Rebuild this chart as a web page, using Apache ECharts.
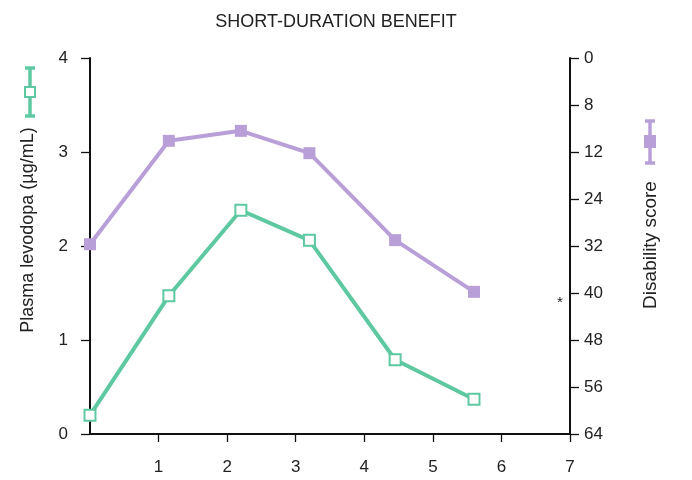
<!DOCTYPE html>
<html><head><meta charset="utf-8">
<script src="https://cdn.jsdelivr.net/npm/echarts@6/dist/echarts.min.js"></script>
<style>html,body{margin:0;padding:0;background:#fff}#c{width:692px;height:480px}</style>
</head><body><div id="c"></div>
<script>
var hours = [0, 1.15, 2.2, 3.2, 4.45, 5.6];
var levodopa = [0.2, 1.47, 2.38, 2.06, 0.79, 0.37];
var disability = [31.7, 14.1, 12.4, 16.2, 31.0, 39.8];
var xTicks = [1, 2, 3, 4, 5, 6, 7];
var leftTicks = ['0', '1', '2', '3', '4'];
var rightTickLabels = ['0', '8', '12', '24', '32', '40', '48', '56', '64'];

var GREEN = '#5ec9a1', PURPLE = '#b99fd8', FONT = 'Liberation Sans, Arial, sans-serif', TXT = '#222';
var chart = echarts.init(document.getElementById('c'));
chart.setOption({
  animation: false,
  textStyle: {fontFamily: FONT},
  title: {text: 'SHORT-DURATION BENEFIT', left: 331, top: 8, textAlign: 'center',
    textStyle: {fontSize: 18, fontWeight: 'normal', color: TXT, fontFamily: FONT}},
  grid: {left: 90, right: 122, top: 58, bottom: 46, containLabel: false},
  xAxis: {type: 'value', min: 0, max: 7, interval: 1,
    axisLine: {show: true, lineStyle: {color: '#111', width: 2}},
    axisTick: {show: true, length: 8, lineStyle: {color: '#111', width: 1.3}, customValues: xTicks},
    axisLabel: {fontSize: 17, color: TXT, margin: 25, customValues: xTicks},
    splitLine: {show: false}},
  yAxis: [{type: 'value', min: 0, max: 4, interval: 1, position: 'left',
    axisLine: {show: true, lineStyle: {color: '#111', width: 2}},
    axisTick: {show: true, length: 9, lineStyle: {color: '#111', width: 1.3}},
    axisLabel: {fontSize: 17, color: TXT, margin: 22, formatter: function(v){return leftTicks[Math.round(v)];}},
    splitLine: {show: false}},
   {type: 'value', min: 0, max: 64, interval: 8, inverse: true, position: 'right',
    axisLine: {show: true, lineStyle: {color: '#111', width: 2}},
    axisTick: {show: true, length: 9, lineStyle: {color: '#111', width: 1.3}},
    axisLabel: {fontSize: 17, color: TXT, margin: 14, formatter: function(v){return rightTickLabels[Math.round(v/8)];}},
    splitLine: {show: false}}],
  series: [
    {name: 'Disability score', type: 'line', yAxisIndex: 1,
     data: hours.map(function(h,i){return [h, disability[i]];}),
     symbol: 'rect', symbolSize: 12, lineStyle: {color: PURPLE, width: 4},
     itemStyle: {color: PURPLE}, z: 3},
    {name: 'Plasma levodopa', type: 'line', yAxisIndex: 0,
     data: hours.map(function(h,i){return [h, levodopa[i]];}),
     symbol: 'rect', symbolSize: 11, showAllSymbol: true, lineStyle: {color: GREEN, width: 4},
     itemStyle: {color: '#fff', borderColor: GREEN, borderWidth: 2}, z: 4}
  ],
  graphic: [
    {type: 'text', x: 28, y: 230, rotation: Math.PI/2,
     style: {text: 'Plasma levodopa (\u00b5g/mL)', fontSize: 18, fill: TXT, fontFamily: FONT, align: 'center', verticalAlign: 'middle'}},
    {type: 'text', x: 651, y: 245, rotation: Math.PI/2,
     style: {text: 'Disability score', fontSize: 19, fill: TXT, fontFamily: FONT, align: 'center', verticalAlign: 'middle'}},
    // green legend icon
    {type: 'line', shape: {x1: 30, y1: 68, x2: 30, y2: 116}, style: {stroke: GREEN, lineWidth: 3.5}},
    {type: 'line', shape: {x1: 25, y1: 68, x2: 35, y2: 68}, style: {stroke: GREEN, lineWidth: 3.5}},
    {type: 'line', shape: {x1: 25, y1: 116, x2: 35, y2: 116}, style: {stroke: GREEN, lineWidth: 3.5}},
    {type: 'rect', shape: {x: 25, y: 87, width: 10, height: 10}, style: {fill: '#fff', stroke: GREEN, lineWidth: 2}},
    // purple legend icon
    {type: 'line', shape: {x1: 650, y1: 121, x2: 650, y2: 163}, style: {stroke: PURPLE, lineWidth: 3.5}},
    {type: 'line', shape: {x1: 645, y1: 121, x2: 655, y2: 121}, style: {stroke: PURPLE, lineWidth: 3.5}},
    {type: 'line', shape: {x1: 645, y1: 163, x2: 655, y2: 163}, style: {stroke: PURPLE, lineWidth: 3.5}},
    {type: 'rect', shape: {x: 644, y: 135, width: 12, height: 13}, style: {fill: PURPLE}},
    {type: 'text', x: 560, y: 303, style: {text: '*', fontSize: 15, fill: TXT, fontFamily: FONT, align: 'center', verticalAlign: 'middle'}}
  ]
});
</script></body></html>
